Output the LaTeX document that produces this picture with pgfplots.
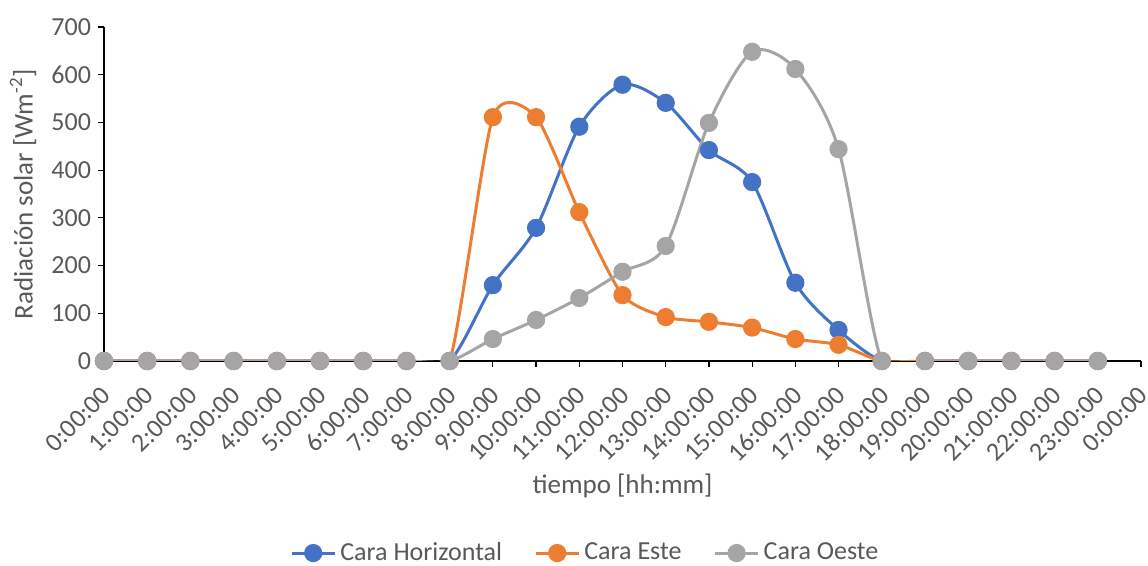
\documentclass[border=0pt]{standalone}
\usepackage{fontspec}
\setmainfont{Carlito}
\usepackage{pgfplots}
\pgfplotsset{compat=1.18}
\definecolor{cblue}{HTML}{4472C4}
\definecolor{corange}{HTML}{ED7D31}
\definecolor{cgray}{HTML}{A5A5A5}
\definecolor{ctext}{HTML}{595959}
\begin{document}
\begin{tikzpicture}[x=1pt,y=1pt]
\useasboundingbox (-52,-102.5) rectangle (522,180.5);
\begin{axis}[
  at={(0,0)}, anchor=south west,
  scale only axis,
  width=518.5pt, height=167pt,
  xmin=0, xmax=24, ymin=0, ymax=700,
  axis x line*=bottom, axis y line*=left,
  axis line style={black, line width=0.6pt},
  xtick={0,1,...,24},
  xticklabels={0:00:00,1:00:00,2:00:00,3:00:00,4:00:00,5:00:00,6:00:00,7:00:00,8:00:00,9:00:00,10:00:00,11:00:00,12:00:00,13:00:00,14:00:00,15:00:00,16:00:00,17:00:00,18:00:00,19:00:00,20:00:00,21:00:00,22:00:00,23:00:00,0:00:00},
  ytick={0,100,...,700},
  tick align=outside,
  major tick length=3pt,
  tick style={black, line width=0.6pt},
  /pgf/number format/assume math mode=true,
  ticklabel style={font=\fontsize{13}{15}\selectfont, text=ctext},
  x tick label style={xshift=-2pt, yshift=-4pt, rotate=45, anchor=north east},
  xlabel={tiempo [hh:mm]},
  xlabel style={at={(axis description cs:0.5,-0.374)}, anchor=center, font=\fontsize{13.5}{15}\selectfont, text=ctext},
  ylabel={Radiación solar [Wm\textsuperscript{-2}]},
  ylabel style={at={(axis description cs:-0.078,0.5)}, anchor=center, rotate=0, font=\fontsize{13.5}{15}\selectfont, text=ctext},
  legend style={at={(axis description cs:0.465,-0.575)}, anchor=center, draw=none, legend columns=3,
    font=\fontsize{13}{15}\selectfont, text=ctext, inner sep=0pt,
    /tikz/every even column/.append style={column sep=14pt}},
  legend image code/.code={
    \draw[#1, mark=none] (0cm,0cm) -- (0.76cm,0cm);
    \draw[#1, only marks] plot coordinates {(0.38cm,0cm)};
  },
  every axis plot/.append style={smooth, tension=0.48, line width=1.5pt, mark=*, mark size=3.8pt},
]
\addplot[color=cblue, mark options={fill=cblue}] coordinates {
(0,0)(1,0)(2,0)(3,0)(4,0)(5,0)(6,0)(7,0)(8,0)(9,159)(10,279)(11,491)(12,579)(13,541)(14,442)(15,375)(16,164)(17,65)(18,0)(19,0)(20,0)(21,0)(22,0)(23,0)};
\addlegendentry{Cara Horizontal}
\addplot[color=corange, mark options={fill=corange}, tension=0.4] coordinates {
(0,0)(1,0)(2,0)(3,0)(4,0)(5,0)(6,0)(7,0)(8,0)(9,511)(10,511)(11,312)(12,138)(13,92)(14,82)(15,70)(16,46)(17,34)(18,0)(19,0)(20,0)(21,0)(22,0)(23,0)};
\addlegendentry{Cara Este}
\addplot[color=cgray, mark options={fill=cgray}] coordinates {
(0,0)(1,0)(2,0)(3,0)(4,0)(5,0)(6,0)(7,0)(8,0)(9,46)(10,86)(11,132)(12,187)(13,241)(14,499)(15,648)(16,612)(17,444)(18,0)(19,0)(20,0)(21,0)(22,0)(23,0)};
\addlegendentry{Cara Oeste}
\end{axis}
\end{tikzpicture}
\end{document}
